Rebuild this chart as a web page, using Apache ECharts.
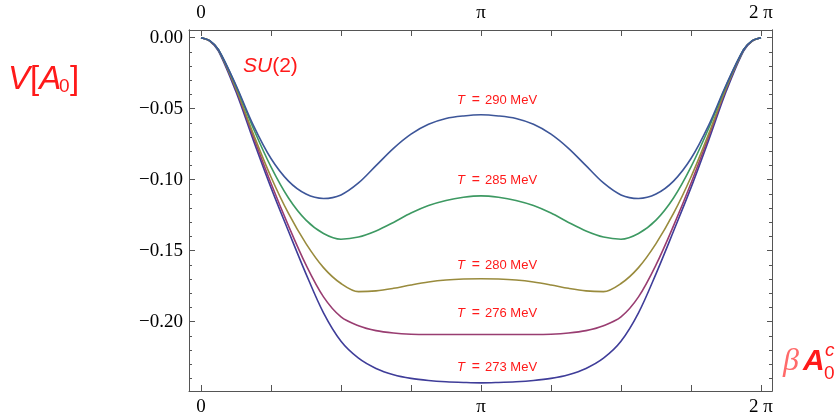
<!DOCTYPE html>
<html>
<head>
<meta charset="utf-8">
<script src="https://cdn.jsdelivr.net/npm/echarts@6/dist/echarts.min.js"></script>
<style>html,body{margin:0;padding:0;background:#fff}#c{width:839px;height:415px}</style>
</head>
<body>
<div id="c"></div>
<script>
// x positions in units of pi
const X = [0,0.03125,0.0625,0.125,0.1875,0.25,0.3125,0.375,0.4375,0.5,0.5625,0.625,0.6875,0.75,0.8125,0.875,0.9375,1,
           1.0625,1.125,1.1875,1.25,1.3125,1.375,1.4375,1.5,1.5625,1.625,1.6875,1.75,1.8125,1.875,1.9375,1.96875,2];
const T273 = [0,-0.0024,-0.0094,-0.0381,-0.0725,-0.1056,-0.1363,-0.1663,-0.1938,-0.2138,-0.2257,-0.2329,-0.2373,-0.2399,-0.2414,-0.2423,-0.2428,-0.2431,
              -0.2428,-0.2423,-0.2414,-0.2399,-0.2373,-0.2329,-0.2257,-0.2138,-0.1938,-0.1663,-0.1363,-0.1056,-0.0725,-0.0381,-0.0094,-0.0024,0];
const T276 = [0,-0.0022,-0.0088,-0.0363,-0.0700,-0.1025,-0.1325,-0.1600,-0.1825,-0.1966,-0.2028,-0.2063,-0.2080,-0.2088,-0.2090,-0.2090,-0.2090,-0.2090,
              -0.2090,-0.2090,-0.2090,-0.2088,-0.2080,-0.2063,-0.2028,-0.1966,-0.1825,-0.1600,-0.1325,-0.1025,-0.0700,-0.0363,-0.0088,-0.0022,0];
const T280 = [0,-0.0022,-0.0088,-0.0356,-0.0681,-0.0981,-0.1238,-0.1450,-0.1619,-0.1731,-0.1788,-0.1783,-0.1765,-0.1741,-0.1720,-0.1706,-0.1699,-0.1697,
              -0.1699,-0.1706,-0.1720,-0.1741,-0.1765,-0.1783,-0.1788,-0.1731,-0.1619,-0.1450,-0.1238,-0.0981,-0.0681,-0.0356,-0.0088,-0.0022,0];
const T285 = [0,-0.0021,-0.0085,-0.0341,-0.0641,-0.0910,-0.1129,-0.1285,-0.1379,-0.1419,-0.1404,-0.1361,-0.1301,-0.1235,-0.1182,-0.1146,-0.1124,-0.1114,
              -0.1124,-0.1146,-0.1182,-0.1235,-0.1301,-0.1361,-0.1404,-0.1419,-0.1379,-0.1285,-0.1129,-0.0910,-0.0641,-0.0341,-0.0085,-0.0021,0];
const T290 = [0,-0.0021,-0.0085,-0.0335,-0.0619,-0.0851,-0.1010,-0.1101,-0.1132,-0.1107,-0.1023,-0.0901,-0.0779,-0.0679,-0.0610,-0.0569,-0.0551,-0.0543,
              -0.0551,-0.0569,-0.0610,-0.0679,-0.0779,-0.0901,-0.1023,-0.1107,-0.1132,-0.1101,-0.1010,-0.0851,-0.0619,-0.0335,-0.0085,-0.0021,0];
const seriesNames = ['T = 273 MeV','T = 276 MeV','T = 280 MeV','T = 285 MeV','T = 290 MeV'];
const seriesData = [T273, T276, T280, T285, T290];
const seriesColors = ['#3F3D99','#993D71','#998B3D','#3D9962','#3D5699'];
const xTickVals = [0,0.25,0.5,0.75,1,1.25,1.5,1.75,2];
const xLabelVals = [0,1,2];
const xLabelText = ['0','π','2 π'];
const yMajor = [0,-0.05,-0.1,-0.15,-0.2];
const yMinor = [0,-0.01,-0.02,-0.03,-0.04,-0.05,-0.06,-0.07,-0.08,-0.09,-0.1,-0.11,-0.12,-0.13,-0.14,-0.15,-0.16,-0.17,-0.18,-0.19,-0.2,-0.21,-0.22,-0.23,-0.24];
const tLabels = ['290','285','280','276','273'];

const XMIN = -0.04286, XMAX = 2.0393, YMIN = -0.2488, YMAX = 0.00542;
const frameColor = '#555';
const serif = '"Liberation Serif", "DejaVu Serif", serif';
const sans = '"Liberation Sans", Arial, sans-serif';
const red = '#ff1a1a';

function xLab(v){ const i = xLabelVals.indexOf(Math.round(v)); return i>=0 ? xLabelText[i] : ''; }
function yLab(v){ if (Math.abs(v) < 1e-9) return '0.00'; return '\u2212' + Math.abs(v).toFixed(2); }

const xAxisBase = (pos) => ({
  type:'value', min:XMIN, max:XMAX, position:pos, gridIndex:0,
  splitLine:{show:false},
  axisLine:{show:true, onZero:false, lineStyle:{color:frameColor, width:1}},
  axisTick:{show:true, inside:true, length:6, customValues:xTickVals, lineStyle:{color:frameColor}},
  axisLabel:{show:true, customValues:xLabelVals, formatter:xLab, color:'#000', fontFamily:serif, fontSize:19, margin:7}
});
const yAxisBase = (pos, vals, len, labels) => ({
  type:'value', min:YMIN, max:YMAX, position:pos, gridIndex:0,
  splitLine:{show:false},
  axisLine:{show:true, onZero:false, lineStyle:{color:frameColor, width:1}},
  axisTick:{show:true, inside:true, length:len, customValues:vals, lineStyle:{color:frameColor}},
  axisLabel:{show:labels, customValues:yMajor, formatter:yLab, color:'#000', fontFamily:serif, fontSize:19, margin:6}
});

const series = seriesData.map((arr, k) => ({
  type:'line', name:seriesNames[k], xAxisIndex:0, yAxisIndex:0,
  data: X.map((x,i)=>[x, arr[i]]),
  showSymbol:false, symbol:'none', smooth:0.33,
  lineStyle:{color:seriesColors[k], width:1.6},
  itemStyle:{color:seriesColors[k]},
  z: 2+k, silent:true, animation:false
}));

const tY = [100, 180, 265, 313, 367];
const graphics = [];
tLabels.forEach((t,i)=>{
  graphics.push({type:'text', x:497, y:tY[i], style:{
    text:'{i|T}{e|=}{n|'+t+' MeV}', align:'center', verticalAlign:'middle',
    rich:{ i:{fontStyle:'italic', fontFamily:sans, fontSize:13, fill:red},
           e:{fontFamily:sans, fontSize:14, fill:red, padding:[0,5,0,7]},
           n:{fontFamily:sans, fontSize:13, fill:red} }
  }});
});
// V[A0]
graphics.push({type:'text', x:8, y:80, style:{text:'{i|V}{n|[}{i|A}', verticalAlign:'middle',
  rich:{i:{fontStyle:'italic', fontFamily:sans, fontSize:33, fill:red}, n:{fontFamily:sans, fontSize:33, fill:red}}}});
graphics.push({type:'text', x:59, y:87, style:{text:'0', verticalAlign:'middle', font:'19px '+sans, fill:red}});
graphics.push({type:'text', x:70, y:80, style:{text:']', verticalAlign:'middle', font:'33px '+sans, fill:red}});
// SU(2)
graphics.push({type:'text', x:243, y:66, style:{text:'{i|SU}{n|(2)}', verticalAlign:'middle',
  rich:{i:{fontStyle:'italic', fontFamily:sans, fontSize:21, fill:red}, n:{fontFamily:sans, fontSize:21, fill:red}}}});
// beta A0^c
graphics.push({type:'text', x:783, y:362, style:{text:'β', verticalAlign:'middle', font:'italic 32px '+serif, fill:'#ff6a6a'}});
graphics.push({type:'text', x:803, y:362, style:{text:'A', verticalAlign:'middle', font:'italic bold 30px '+sans, fill:red}});
graphics.push({type:'text', x:825, y:351, style:{text:'c', verticalAlign:'middle', font:'italic 19px '+sans, fill:red}});
graphics.push({type:'text', x:824, y:374, style:{text:'0', verticalAlign:'middle', font:'19px '+sans, fill:red}});

const chart = echarts.init(document.getElementById('c'), null, {renderer:'canvas'});
chart.setOption({
  animation:false,
  backgroundColor:'#fff',
  grid:{left:189, top:30, width:583, height:361, containLabel:false, outerBoundsMode:'none'},
  xAxis:[xAxisBase('bottom'), xAxisBase('top')],
  yAxis:[yAxisBase('left', yMajor, 6, true), yAxisBase('left', yMinor, 3, false),
         yAxisBase('right', yMajor, 5, false), yAxisBase('right', yMinor, 3, false)],
  series: series,
  graphic: graphics
});
</script>
</body>
</html>
